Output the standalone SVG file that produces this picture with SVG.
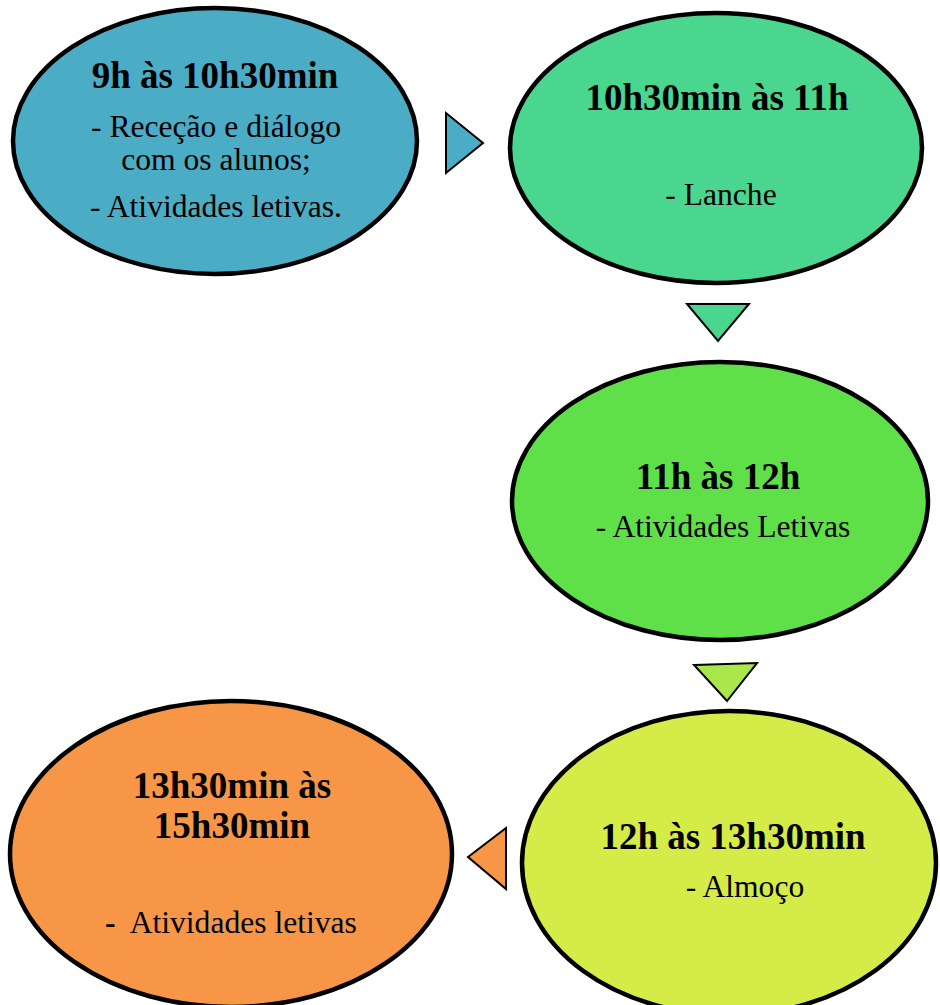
<svg xmlns="http://www.w3.org/2000/svg" width="940" height="1005" viewBox="0 0 940 1005">
  <style>
    .bubble { stroke: #000; stroke-width: 4.5; }
    .arrow { stroke: #000; stroke-width: 2; stroke-linejoin: miter; }
    .title { font-family: "Liberation Serif", "Times New Roman", serif; font-size: 37px; font-weight: bold; fill: #000; text-anchor: middle; }
    .body { font-family: "Liberation Serif", "Times New Roman", serif; font-size: 31.6px; fill: #000; text-anchor: middle; }
  </style>
  <rect width="940" height="1005" fill="#fff"/>

  <!-- connectors between time slots -->
  <g id="connectors">
    <polygon class="arrow" points="446,113 446,173 483,143" fill="#4BACC6"/>
    <polygon class="arrow" points="687,304 749,304 718,341" fill="#4AD68F"/>
    <polygon class="arrow" points="694,665 757,663 727,701" fill="#A9E64A"/>
    <polygon class="arrow" points="506,828 506,889 468,857" fill="#F79646"/>
  </g>

  <g id="slot-0900">
    <ellipse class="bubble" cx="215" cy="141" rx="202" ry="133" fill="#4BACC6"/>
    <text class="title" x="215" y="88">9h às 10h30min</text>
    <text class="body" x="216" y="137">- Receção e diálogo</text>
    <text class="body" x="216" y="170">com os alunos;</text>
    <text class="body" x="216" y="217">- Atividades letivas.</text>
  </g>

  <g id="slot-1030">
    <ellipse class="bubble" cx="716" cy="148" rx="206" ry="135" fill="#4AD68F"/>
    <text class="title" x="717" y="110">10h30min às 11h</text>
    <text class="body" x="721" y="205">- Lanche</text>
  </g>

  <g id="slot-1100">
    <ellipse class="bubble" cx="720" cy="501" rx="208" ry="139" fill="#5FE048"/>
    <text class="title" x="718" y="489">11h às 12h</text>
    <text class="body" x="723" y="537">- Atividades Letivas</text>
  </g>

  <g id="slot-1200">
    <ellipse class="bubble" cx="729" cy="863" rx="207" ry="152" fill="#D5EB47"/>
    <text class="title" x="733" y="849">12h às 13h30min</text>
    <text class="body" x="745" y="897">- Almoço</text>
  </g>

  <g id="slot-1330">
    <ellipse class="bubble" cx="231" cy="854" rx="221" ry="153" fill="#F79646"/>
    <text class="title" x="232" y="798">13h30min às</text>
    <text class="title" x="232" y="838">15h30min</text>
    <text class="body" x="231" y="933" xml:space="preserve" style="white-space:pre"><tspan font-weight="bold">-</tspan>  Atividades letivas</text>
  </g>
</svg>
